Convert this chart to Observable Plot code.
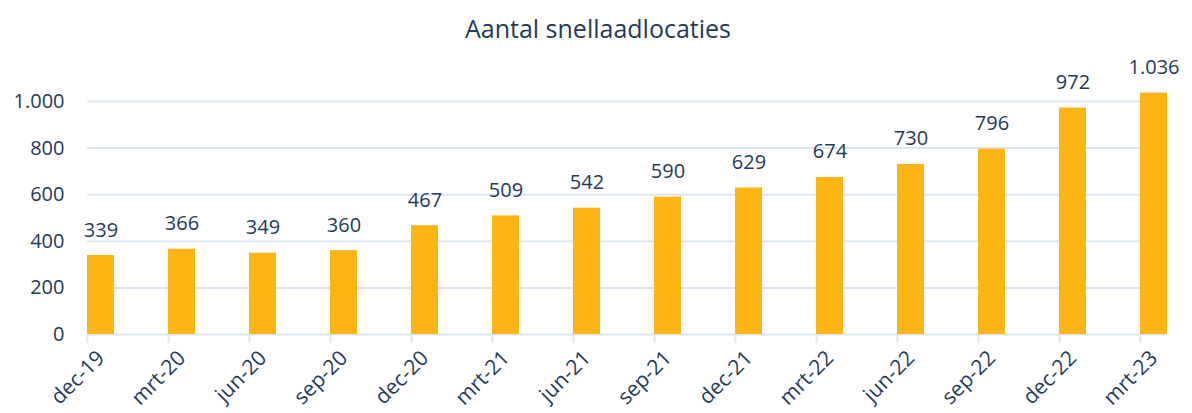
<!DOCTYPE html>
<html>
<head>
<meta charset="utf-8">
<script src="https://cdn.jsdelivr.net/npm/d3@7"></script>
<script src="https://cdn.jsdelivr.net/npm/@observablehq/plot@0.6"></script>
<style>
  html, body { margin: 0; padding: 0; background: #fff; }
  #title { height: 44px; line-height: 44px; padding-top: 6px; text-align: center; font-family: "Open Sans", sans-serif; font-size: 25px; color: #243b5a; padding-left: 4px; }
  #chart svg { display: block; }
</style>
</head>
<body>
<div id="title">Aantal snellaadlocaties</div>
<div id="chart"></div>
<script>
const categories = ["dec-19","mrt-20","jun-20","sep-20","dec-20","mrt-21","jun-21","sep-21","dec-21","mrt-22","jun-22","sep-22","dec-22","mrt-23"];
const values = [339,366,349,360,467,509,542,590,629,674,730,796,972,1036];
const yTicks = [0,200,400,600,800,1000];

const data = categories.map((c, i) => ({cat: c, val: values[i]}));
const nl = d3.formatLocale({decimal: ",", thousands: ".", grouping: [3], currency: ["€", ""]});
const fmt = nl.format(",d");

const textColor = "#243b5a";
const gridColor = "#dce7f3";
const font = "'Open Sans', sans-serif";

const chart = Plot.plot({
  width: 1192,
  height: 363,
  marginLeft: 87,
  marginRight: 25,
  marginTop: 51,
  marginBottom: 79,
  style: {fontFamily: font, color: textColor, background: "#fff"},
  x: {domain: categories, paddingInner: 0.667, paddingOuter: 0, label: null},
  y: {domain: [0, 1000], label: null},
  marks: [
    Plot.gridY(yTicks, {stroke: gridColor, strokeOpacity: 1, strokeWidth: 2}),
    Plot.ruleX(categories, {x: d => d, dx: -13.5, y1: 0, y2: 0, insetBottom: -9, stroke: gridColor, strokeWidth: 2}),
    Plot.barY(data, {x: "cat", y: "val", fill: "#fdb515"}),
    Plot.text(data, {x: "cat", y: "val", text: d => fmt(d.val), dy: -19, lineAnchor: "bottom", fontSize: 20, fill: textColor}),
    Plot.axisY(yTicks, {tickSize: 0, tickPadding: 23, fontSize: 20, tickFormat: fmt, fill: textColor}),
    Plot.axisX({tickSize: 0, tickRotate: -45, tickPadding: 20, fontSize: 21, fill: textColor})
  ]
});
document.getElementById("chart").appendChild(chart);
</script>
</body>
</html>
